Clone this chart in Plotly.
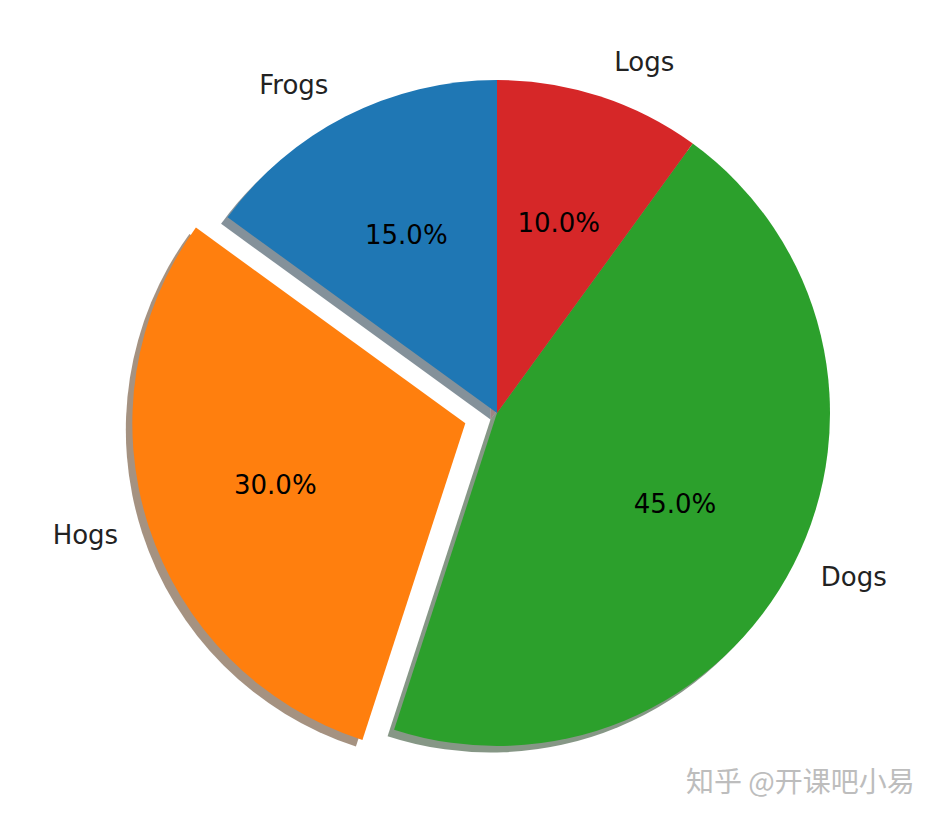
import plotly.graph_objects as go

labels = ["Frogs", "Hogs", "Dogs", "Logs"]
sizes = [15, 30, 45, 10]
explode = [0, 0.1, 0, 0]
colors = ["#1f77b4", "#ff7f0e", "#2ca02c", "#d62728"]
watermark = "知乎 @开课吧小易"

W, H = 940, 822
cx, cy = 489, 405          # pie centre in pixels (page offset compensated)
r = 333                    # radius in pixels
shadow_off = 6.5
label_r = 1.066            # label ring radius relative to pie radius
pct_dist = 0.6             # percentage text distance (matplotlib pctdistance)
pct_hole = 0.6             # ring used so plotly centres all pct texts at same radius
pct_R = r * pct_dist / (1 - (1 - pct_hole) / 2)
pct_pull = [e * r / pct_R for e in explode]

# plotly counterclockwise keeps the first slice clockwise of 'rotation';
# shift so the first slice starts at 12 o'clock going counterclockwise
start_rot = -360.0 * sizes[0] / sum(sizes)

def dom(rad, pulls, dx=0.0, dy=0.0):
    box = 2 * rad * (1 + max(pulls))
    x0 = (cx - box / 2 + dx) / W
    x1 = (cx + box / 2 + dx) / W
    y0 = (H - cy - box / 2 - dy) / H
    y1 = (H - cy + box / 2 - dy) / H
    return dict(x=[x0, x1], y=[y0, y1])

def shade(hexc):
    h = hexc.lstrip("#")
    rgb = [int(h[i:i + 2], 16) for i in (0, 2, 4)]
    return "rgba(%d,%d,%d,0.5)" % tuple(int(0.3 * c) for c in rgb)

font = "DejaVu Sans"
clear = ["rgba(0,0,0,0)"] * len(labels)
common = dict(labels=labels, values=sizes, sort=False,
              direction="counterclockwise", rotation=start_rot, hoverinfo="skip",
              automargin=False, showlegend=False)

fig = go.Figure()
# shadow
fig.add_trace(go.Pie(**common, pull=explode, domain=dom(r, explode, -shadow_off, shadow_off),
                     marker=dict(colors=[shade(c) for c in colors], line=dict(width=0)),
                     textinfo="none"))
# main pie
fig.add_trace(go.Pie(**common, pull=explode, domain=dom(r, explode),
                     marker=dict(colors=colors, line=dict(width=0)),
                     textinfo="none"))
# percentage texts
fig.add_trace(go.Pie(**common, pull=pct_pull, hole=pct_hole, domain=dom(pct_R, pct_pull),
                     marker=dict(colors=clear, line=dict(width=0)),
                     texttemplate="%{percent:.1%}", textposition="inside",
                     insidetextorientation="horizontal",
                     textfont=dict(family=font, size=26, color="#000000")))
# outside labels
fig.add_trace(go.Pie(**common, pull=explode, domain=dom(r * label_r, explode),
                     marker=dict(colors=clear, line=dict(width=0)),
                     textinfo="label", textposition="outside",
                     textfont=dict(family=font, size=26, color="#222222")))

fig.add_annotation(text=watermark, xref="paper", yref="paper",
                   x=909 / W, y=(H - 772) / H, xanchor="right", yanchor="middle",
                   showarrow=False,
                   font=dict(family="Noto Sans CJK SC", size=28, color="#bdbdbd"))

fig.update_layout(width=W, height=H,
                  margin=dict(l=0, r=0, t=0, b=0, pad=0, autoexpand=False),
                  paper_bgcolor="white", plot_bgcolor="white",
                  font=dict(family=font))

fig.write_html("out.html")
